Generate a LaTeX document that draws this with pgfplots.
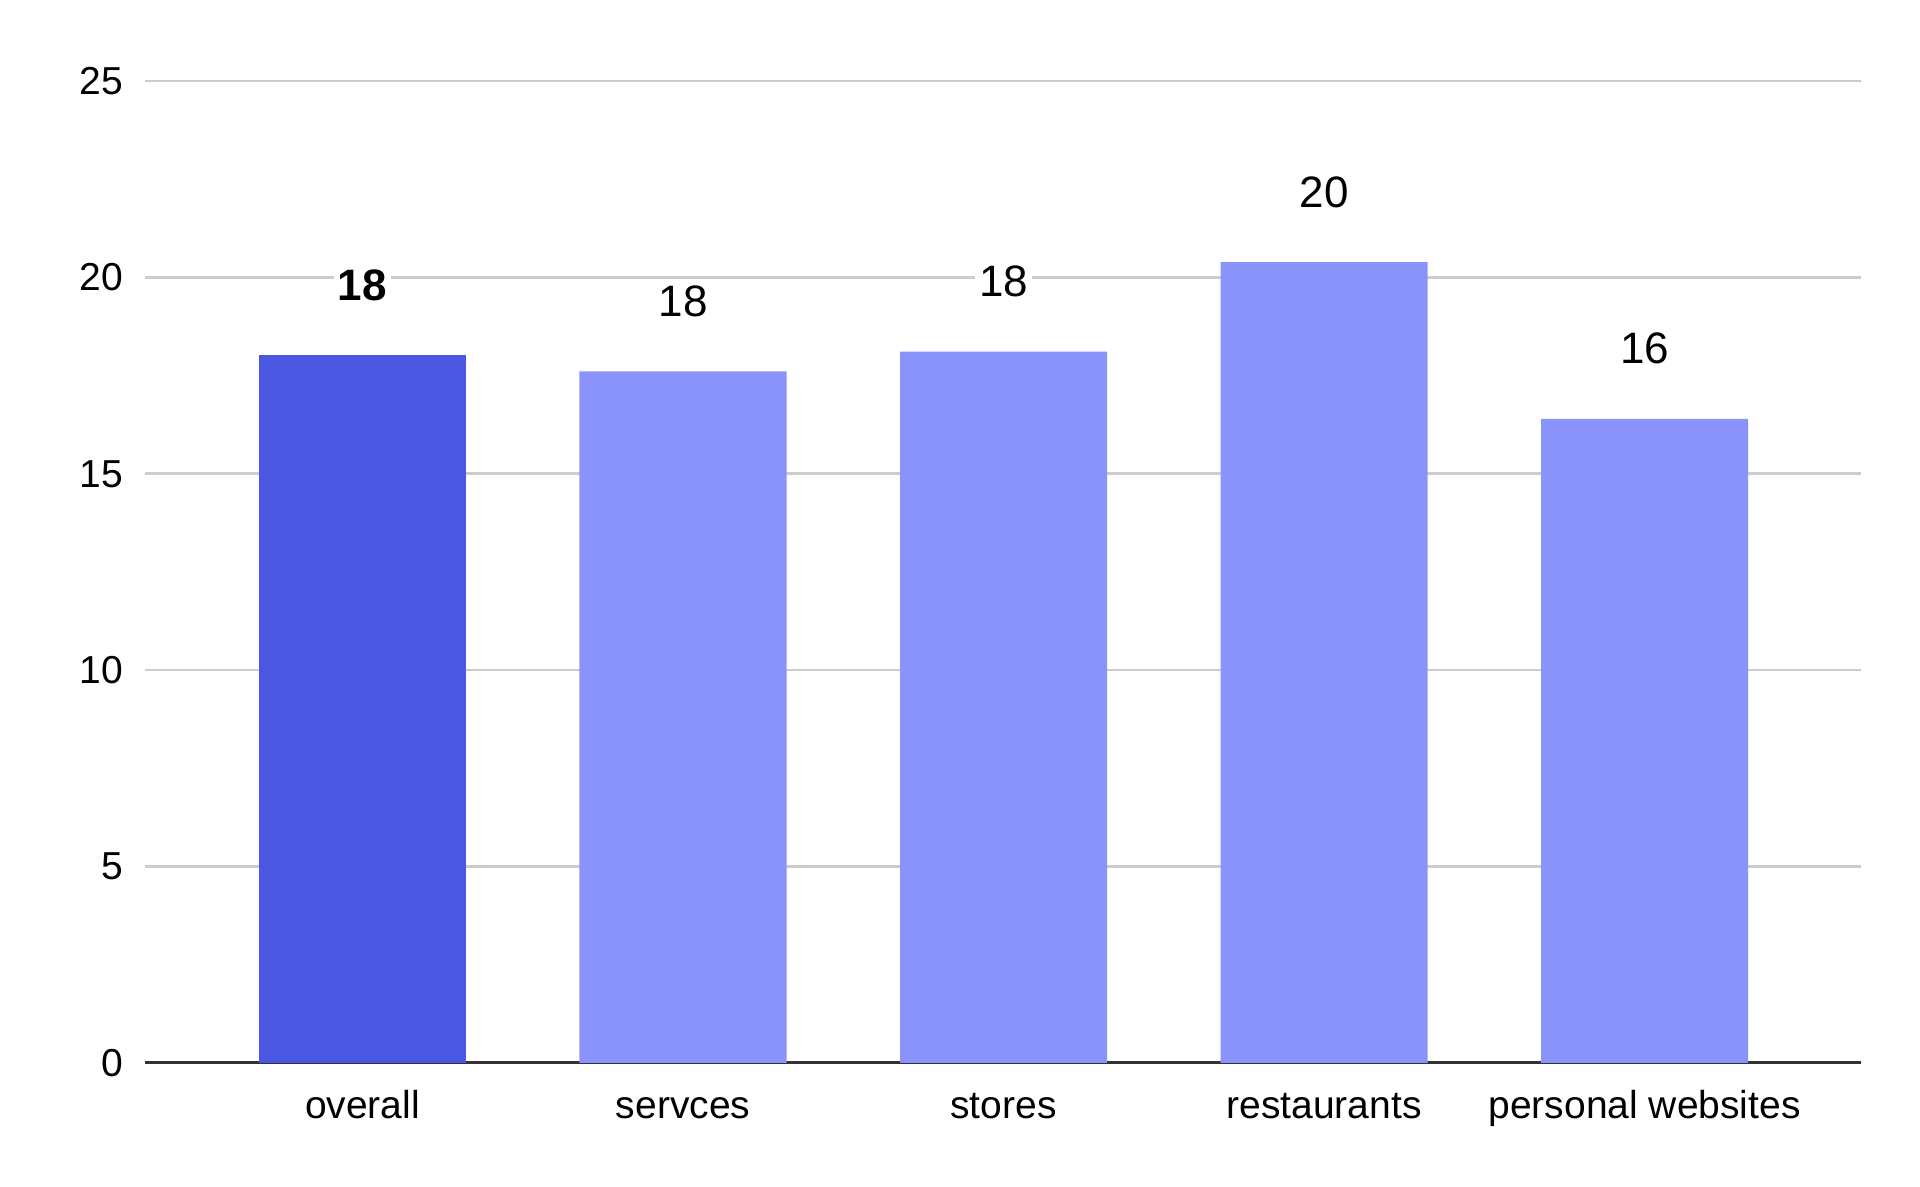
\documentclass[border=0pt]{standalone}
\usepackage{pgfplots}
\pgfplotsset{compat=1.18}
\usepackage{fontspec}
\setmainfont{Liberation Sans}
\definecolor{darkbar}{RGB}{74,87,224}
\definecolor{lightbar}{RGB}{138,147,250}
\definecolor{gridc}{RGB}{204,204,204}
\definecolor{axc}{RGB}{51,51,51}
\begin{document}
\begin{tikzpicture}
\begin{axis}[
  scale only axis, width=858.25pt, height=491pt,
  xmin=-0.68, xmax=4.675, ymin=0, ymax=25,
  ytick={0,5,10,15,20,25}, xtick={0,1,2,3,4},
  xticklabels={overall,servces,stores,restaurants,personal websites},
  axis x line*=bottom, axis y line*=left,
  x axis line style={axc, line width=1.5pt},
  y axis line style={draw=none},
  major tick length=0pt,
  ymajorgrids, grid style={gridc, line width=1.3pt},
  /pgf/number format/assume math mode=true,
  tick label style={font=\fontsize{19.5}{23}\selectfont, text=black},
  yticklabel style={anchor=east, inner sep=0pt, xshift=-10.5pt},
  xticklabel style={anchor=base, inner sep=0pt, yshift=-27.5pt},
  nodes near coords={\pgfmathprintnumber[fixed,precision=0]{\pgfplotspointmeta}},
]
\addplot[ybar, bar width=0.646, bar shift=0pt, fill=darkbar, draw=none,
  nodes near coords style={font=\fontsize{22}{26}\selectfont\bfseries, anchor=base, yshift=27.5pt, fill=white, inner sep=2pt, text=black}]
  coordinates {(0,18.02)};
\addplot[ybar, bar width=0.646, bar shift=0pt, fill=lightbar, draw=none,
  nodes near coords style={font=\fontsize{22}{26}\selectfont, anchor=base, yshift=27.5pt, fill=white, inner sep=2pt, text=black}]
  coordinates {(1,17.61) (2,18.11) (3,20.39) (4,16.40)};
\end{axis}
\pgfresetboundingbox
\path[use as bounding box] ([xshift=-72.25pt,yshift=-62pt]current axis.south west) rectangle ([xshift=29.5pt,yshift=40.5pt]current axis.north east);
\end{tikzpicture}
\end{document}
